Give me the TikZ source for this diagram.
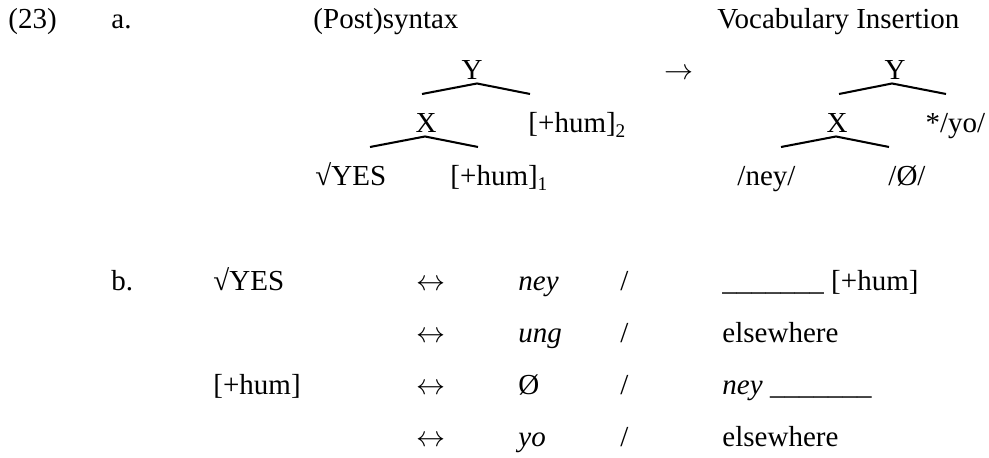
\documentclass[tikz,border=0pt,12pt]{standalone}
\usepackage{fontspec}
\setmainfont{Liberation Serif}
\usetikzlibrary{calc}

\tikzset{
  txt/.style={anchor=base west, inner sep=0pt},
  lbl/.style={anchor=base, inner sep=0pt},
  branch/.style={line width=0.85pt},
}

\begin{document}
\begin{tikzpicture}[x=0.4138pt,y=-0.4138pt]
\useasboundingbox (0,0) rectangle (989,458);

% (23a): headings
\node[txt] (num) at (8,29) {(23)};
\node[txt] (a) at (111,29) {a.};
\node[txt] (post) at (313,29) {(Post)syntax};
\node[txt] (vi) at (717,29) {Vocabulary Insertion};

% syntax tree
\node[lbl] (y1) at (472,80) {Y};
\node[lbl] (x1) at (426,133) {X};
\node[txt] (hum2) at (528,133) {[+hum]\textsubscript{2}};
\node[txt] (yes) at (315,186) {√YES};
\node[txt] (hum1) at (450,186) {[+hum]\textsubscript{1}};

\coordinate (y1l) at (422,94);
\coordinate (y1r) at (530,94);
\coordinate (x1l) at (370,147);
\coordinate (x1r) at (478,147);
\draw[branch] (y1l) -- ($(y1.south)+(5,3)$) -- (y1r);
\draw[branch] (x1l) -- ($(x1.south)+(-1,3)$) -- (x1r);

\node[lbl] (to) at (679,80) {$\rightarrow$};

% tree after insertion
\node[lbl] (y2) at (895,80) {Y};
\node[lbl] (x2) at (837,133) {X};
\node[txt] (yo2) at (925,133) {*/yo/};
\node[txt] (ney2) at (737,186) {/ney/};
\node[txt] (zero2) at (888,186) {/Ø/};

\coordinate (y2l) at (839,94);
\coordinate (y2r) at (946,94);
\coordinate (x2l) at (781,147);
\coordinate (x2r) at (889,147);
\draw[branch] (y2l) -- ($(y2.south)+(-3,3)$) -- (y2r);
\draw[branch] (x2l) -- ($(x2.south)+(-1,3)$) -- (x2r);

% (23b): vocabulary items
\node[txt] (b) at (111,291) {b.};
\node[txt] (root) at (213,291) {√YES};
\node[txt] (hum) at (213,395) {[+hum]};

\foreach \r [count=\i] in {291,343,395,447} {
  \node[lbl] (arr\i) at (431,\r) {$\leftrightarrow$};
  \node[txt] (sl\i) at (620,\r) {/};
}

\node[txt] (exp1) at (518,291) {\textit{ney}};
\node[txt] (exp2) at (518,343) {\textit{ung}};
\node[txt] (exp3) at (518,395) {Ø};
\node[txt] (exp4) at (518,447) {\textit{yo}};

\node[txt] (ctx1) at (722,291) {\_\_\_\_\_\_\_ [+hum]};
\node[txt] (ctx2) at (722,343) {elsewhere};
\node[txt] (ctx3) at (722,395) {\textit{ney} \_\_\_\_\_\_\_};
\node[txt] (ctx4) at (722,447) {elsewhere};

\end{tikzpicture}
\end{document}
